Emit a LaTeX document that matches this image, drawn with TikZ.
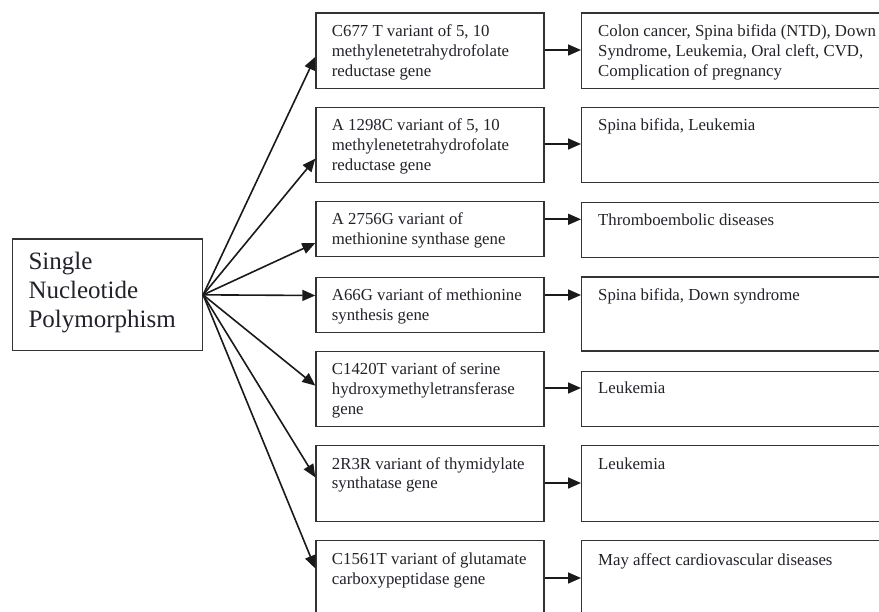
\documentclass[tikz,border=0pt]{standalone}
\usepackage{fontspec}
\setmainfont{Liberation Serif}
\usetikzlibrary{arrows.meta,calc}
\definecolor{boxc}{HTML}{333333}
\definecolor{arrc}{HTML}{1A1A1A}
\definecolor{txtc}{HTML}{22222A}
\begin{document}
\begin{tikzpicture}[x=1pt,y=-1pt,
  box/.style={draw=boxc, line width=1.4pt, rectangle, inner sep=0pt, anchor=north west},
  mid/.style={box, minimum width=228pt},
  res/.style={box, minimum width=330pt},
  lbl/.style={anchor=base west, inner sep=0pt, text=txtc, font=\fontsize{16.8}{20}\selectfont},
  big/.style={anchor=base west, inner sep=0pt, text=txtc, font=\fontsize{25}{29}\selectfont},
  arr/.style={draw=arrc, line width=1.6pt, -{Triangle[length=13pt,width=11pt]}}]
\useasboundingbox (0,0) rectangle (879,612);
\clip (0,0) rectangle (879,612);
\fill[white] (0,0) rectangle (879,612);

% left box
\node[box, minimum width=190pt, minimum height=111.7pt] (L) at (11.7,238.3) {};
\node[big] (tL) at ($(L.north west)+(16.6,31)$) {\parbox[t]{170pt}{\raggedright Single\\Nucleotide\\Polymorphism}};

% middle boxes
\node[mid, minimum height=75.4pt] (m1) at (315.3,12.3) {};
\node[mid, minimum height=75pt]   (m2) at (315.3,106.7) {};
\node[mid, minimum height=55pt]   (m3) at (315.3,201) {};
\node[mid, minimum height=55pt]   (m4) at (315.3,276.7) {};
\node[mid, minimum height=75.3pt] (m5) at (315.3,350.7) {};
\node[mid, minimum height=75.7pt] (m6) at (315.3,445) {};
\node[mid, minimum height=80pt]   (m7) at (315.3,540) {};

% result boxes
\node[res, minimum height=75.4pt] (r1) at (581,12.3) {};
\node[res, minimum height=75pt]   (r2) at (581,106.7) {};
\node[res, minimum height=55pt]   (r3) at (581,201.7) {};
\node[res, minimum height=74pt]   (r4) at (581,276.4) {};
\node[res, minimum height=55pt]   (r5) at (581,371) {};
\node[res, minimum height=75.7pt] (r6) at (581,445) {};
\node[res, minimum height=80pt]   (r7) at (581,540) {};

% middle texts
\node[lbl] (t1) at ($(m1.north west)+(16.4,24)$) {\parbox[t]{215pt}{\raggedright C677 T variant of 5, 10\\methylenetetrahydrofolate\\reductase gene}};
\node[lbl] (t2) at ($(m2.north west)+(16.4,24)$) {\parbox[t]{215pt}{\raggedright A 1298C variant of 5, 10\\methylenetetrahydrofolate\\reductase gene}};
\node[lbl] (t3) at ($(m3.north west)+(16.4,24)$) {\parbox[t]{215pt}{\raggedright A 2756G variant of\\methionine synthase gene}};
\node[lbl] (t4) at ($(m4.north west)+(16.4,24)$) {\parbox[t]{215pt}{\raggedright A66G variant of methionine\\synthesis gene}};
\node[lbl] (t5) at ($(m5.north west)+(16.4,24)$) {\parbox[t]{215pt}{\raggedright C1420T variant of serine\\hydroxymethyletransferase\\gene}};
\node[lbl] (t6) at ($(m6.north west)+(16.4,24)$) {\parbox[t]{215pt}{\raggedright 2R3R variant of thymidylate\\synthatase gene}};
\node[lbl] (t7) at ($(m7.north west)+(16.4,24)$) {\parbox[t]{215pt}{\raggedright C1561T variant of glutamate\\carboxypeptidase gene}};

% result texts
\node[lbl] (s1) at ($(r1.north west)+(17,24)$) {\parbox[t]{300pt}{\raggedright Colon cancer, Spina bifida (NTD), Down\\Syndrome, Leukemia, Oral cleft, CVD,\\Complication of pregnancy}};
\node[lbl] (s2) at ($(r2.north west)+(17,24)$) {Spina bifida, Leukemia};
\node[lbl] (s3) at ($(r3.north west)+(17,24)$) {Thromboembolic diseases};
\node[lbl] (s4) at ($(r4.north west)+(17,24)$) {Spina bifida, Down syndrome};
\node[lbl] (s5) at ($(r5.north west)+(17,23)$) {Leukemia};
\node[lbl] (s6) at ($(r6.north west)+(17,24)$) {Leukemia};
\node[lbl] (s7) at ($(r7.north west)+(17,25)$) {May affect cardiovascular diseases};

% fan-out arrows
\draw[arr] (L.east) -- ($(m1.north west)!0.58!(m1.south west)$);
\draw[arr] (L.east) -- ($(m2.north west)!0.68!(m2.south west)$);
\draw[arr] (L.east) -- ($(m3.north west)!0.745!(m3.south west)$);
\draw[arr] (L.east) -- ($(m4.north west)!0.333!(m4.south west)$);
\draw[arr] (L.east) -- ($(m5.north west)!0.455!(m5.south west)$);
\draw[arr] (L.east) -- ($(m6.north west)!0.42!(m6.south west)$);
\draw[arr] (L.east) -- ($(m7.north west)!0.35!(m7.south west)$);

% middle-to-result arrows
\coordinate (a1) at ($(m1.north east)+(0,37.7)$);
\coordinate (a2) at ($(m2.north east)+(0,37.3)$);
\coordinate (a3) at ($(m3.north east)+(0,18.3)$);
\coordinate (a4) at ($(m4.north east)+(0,18.3)$);
\coordinate (a5) at ($(m5.north east)+(0,37.3)$);
\coordinate (a6) at ($(m6.north east)+(0,38)$);
\coordinate (a7) at ($(m7.north east)+(0,38)$);
\draw[arr] (a1) -- (a1 -| r1.west);
\draw[arr] (a2) -- (a2 -| r2.west);
\draw[arr] (a3) -- (a3 -| r3.west);
\draw[arr] (a4) -- (a4 -| r4.west);
\draw[arr] (a5) -- (a5 -| r5.west);
\draw[arr] (a6) -- (a6 -| r6.west);
\draw[arr] (a7) -- (a7 -| r7.west);
\end{tikzpicture}
\end{document}
